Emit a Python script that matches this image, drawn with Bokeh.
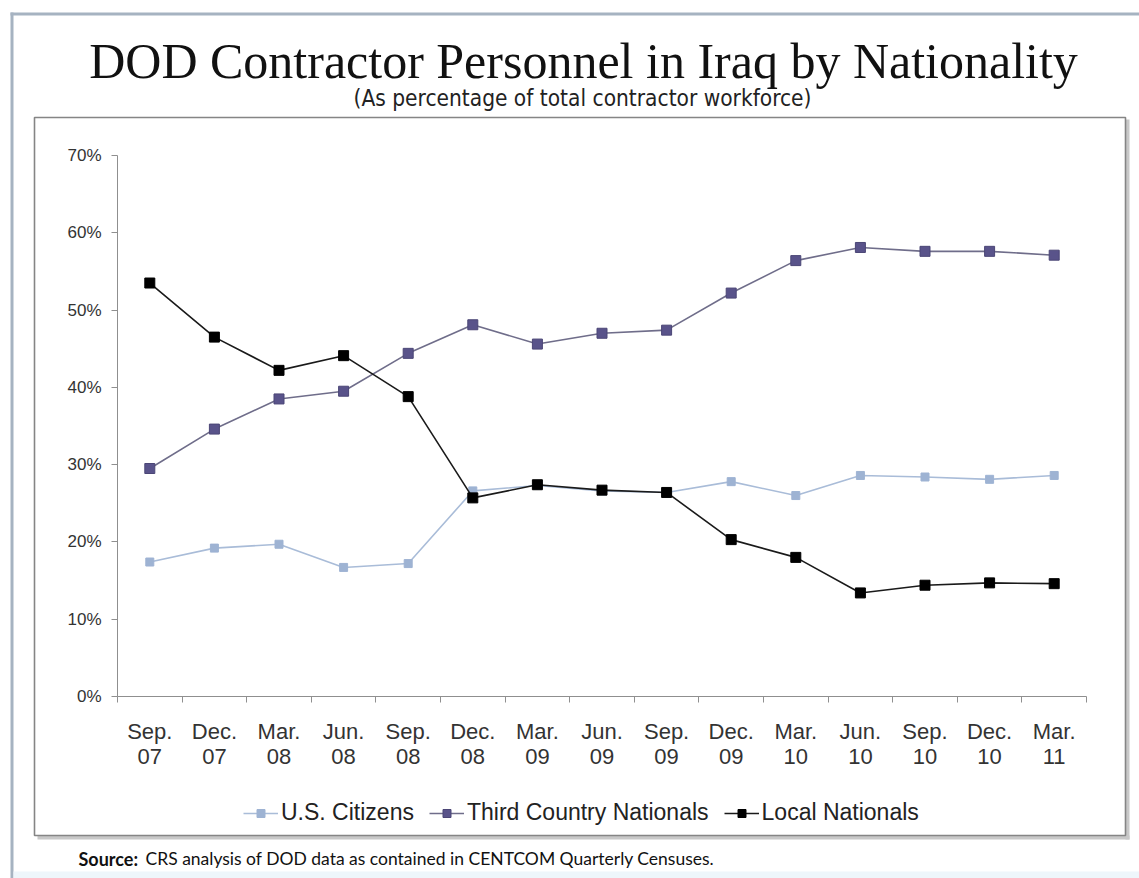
from bokeh.plotting import figure
from bokeh.models import (Range1d, FixedTicker, Label, Legend, LegendItem, LinearAxis,
                          NumeralTickFormatter)
from bokeh.embed import file_html
from bokeh.resources import INLINE

# ---------------- data ----------------
periods = ["Sep.\n07", "Dec.\n07", "Mar.\n08", "Jun.\n08", "Sep.\n08", "Dec.\n08",
           "Mar.\n09", "Jun.\n09", "Sep.\n09", "Dec.\n09", "Mar.\n10", "Jun.\n10",
           "Sep.\n10", "Dec.\n10", "Mar.\n11"]
us_citizens = [17.4, 19.2, 19.7, 16.7, 17.2, 26.6, 27.3, 26.6, 26.4, 27.8, 26.0, 28.6, 28.4, 28.1, 28.6]
third_country = [29.5, 34.6, 38.5, 39.5, 44.4, 48.1, 45.6, 47.0, 47.4, 52.2, 56.4, 58.1, 57.6, 57.6, 57.1]
local_nationals = [53.5, 46.5, 42.2, 44.1, 38.8, 25.7, 27.4, 26.7, 26.4, 20.3, 18.0, 13.4, 14.4, 14.7, 14.6]
y_ticks = [0, 10, 20, 30, 40, 50, 60, 70]

title_text = "DOD Contractor Personnel in Iraq by Nationality"
subtitle_text = "(As percentage of total contractor workforce)"
source_bold = "Source:"
source_text = "CRS analysis of DOD data as contained in CENTCOM Quarterly Censuses."

# ---------------- layout (pixels) ----------------
W, H = 1139, 878
PLOT_L, PLOT_R, PLOT_T, PLOT_B = 117, 1086, 155, 696   # plot area in page pixels

n = len(periods)
x = list(range(n))
x_lo, x_hi = -0.5, n - 0.5
y_lo, y_hi = 0, 70
xs = (PLOT_R - PLOT_L) / (x_hi - x_lo)
ys = (PLOT_B - PLOT_T) / (y_hi - y_lo)

p = figure(width=W, height=H, output_backend="svg", toolbar_location=None,
           x_range=Range1d(x_lo - PLOT_L / xs, x_hi + (W - PLOT_R) / xs),
           y_range=Range1d(y_lo - (H - PLOT_B) / ys, y_hi + PLOT_T / ys),
           x_axis_location=None, y_axis_location=None, min_border=0)
p.extra_x_ranges = {"px": Range1d(0, W)}
p.extra_y_ranges = {"px": Range1d(H, 0)}
p.background_fill_color = "white"
p.border_fill_color = "white"
p.outline_line_color = None
p.grid.grid_line_color = None

# ---------------- decorations ----------------
BORDER = "#a6b3c1"
p.quad(left=[10], right=[W], top=[12], bottom=[15], fill_color=BORDER, line_alpha=0,
       x_range_name="px", y_range_name="px")
p.quad(left=[10], right=[13], top=[12], bottom=[H], fill_color=BORDER, line_alpha=0,
       x_range_name="px", y_range_name="px")
p.quad(left=[13], right=[W], top=[871], bottom=[H], fill_color="#eef6fb", line_alpha=0,
       x_range_name="px", y_range_name="px")
# chart box with soft shadow on right / bottom
p.quad(left=[1125], right=[1129], top=[119], bottom=[839], fill_color="#c8c8c8", line_alpha=0,
       x_range_name="px", y_range_name="px")
p.quad(left=[37], right=[1129], top=[835], bottom=[839], fill_color="#c8c8c8", line_alpha=0,
       x_range_name="px", y_range_name="px")
p.quad(left=[34], right=[1125], top=[117], bottom=[835], fill_alpha=0, line_color="#858585",
       line_width=1.6, x_range_name="px", y_range_name="px")

# ---------------- axes ----------------
AX = "#8f8f8f"
xa = LinearAxis(fixed_location=y_lo, bounds=(x_lo, x_hi))
xa.ticker = FixedTicker(ticks=x, minor_ticks=[i - 0.5 for i in range(n + 1)])
xa.major_label_overrides = {i: lab for i, lab in zip(x, periods)}
xa.major_tick_out = 0
xa.major_tick_in = 0
xa.minor_tick_out = 6
xa.minor_tick_in = 0
xa.minor_tick_line_color = AX
xa.axis_line_color = AX
xa.major_label_standoff = 16
xa.major_label_text_font = "Liberation Sans"
xa.major_label_text_font_size = "22px"
xa.major_label_text_line_height = 1.0
xa.major_label_text_color = "#333333"
p.add_layout(xa, "below")

ya = LinearAxis(fixed_location=x_lo, bounds=(y_lo, y_hi))
ya.ticker = FixedTicker(ticks=y_ticks)
ya.formatter = NumeralTickFormatter(format="0")
ya.major_label_overrides = {t: f"{t}%" for t in y_ticks}
ya.major_tick_out = 6
ya.major_tick_in = 0
ya.minor_tick_out = 0
ya.minor_tick_in = 0
ya.major_tick_line_color = AX
ya.axis_line_color = AX
ya.major_label_standoff = 10
ya.major_label_text_font = "Liberation Sans"
ya.major_label_text_font_size = "17px"
ya.major_label_text_color = "#333333"
p.add_layout(ya, "left")

# ---------------- series ----------------
r_us_l = p.line(x, us_citizens, line_color="#a9bcd8", line_width=1.6)
r_us_m = p.scatter(x, us_citizens, marker="square", size=8, fill_color="#9eb3d3", line_color="#9eb3d3")
r_tc_l = p.line(x, third_country, line_color="#6f6d8a", line_width=1.6)
r_tc_m = p.scatter(x, third_country, marker="square", size=10, fill_color="#59538a", line_color="#4b4676")
r_ln_l = p.line(x, local_nationals, line_color="#1a1a1a", line_width=1.6)
r_ln_m = p.scatter(x, local_nationals, marker="square", size=10, fill_color="#000000", line_color="#000000")

legend = Legend(items=[
    LegendItem(label="U.S. Citizens", renderers=[r_us_l, r_us_m]),
    LegendItem(label="Third Country Nationals", renderers=[r_tc_l, r_tc_m]),
    LegendItem(label="Local Nationals", renderers=[r_ln_l, r_ln_m]),
], orientation="horizontal", location=(243, H - 826))
legend.glyph_width = 35
legend.glyph_height = 20
legend.label_standoff = 3
legend.spacing = 15
legend.padding = 0
legend.margin = 0
legend.border_line_alpha = 0
legend.background_fill_alpha = 0
legend.label_text_font = "Liberation Sans"
legend.label_text_font_size = "23px"
legend.label_text_color = "#222222"
p.add_layout(legend, "center")

# ---------------- texts ----------------
p.add_layout(Label(x=583, y=H - 60, x_units="screen", y_units="screen", text=title_text,
                   text_font="Liberation Serif", text_font_size="50px", text_color="#111111",
                   text_align="center", text_baseline="middle"))
p.add_layout(Label(x=582, y=H - 97, x_units="screen", y_units="screen", text=subtitle_text,
                   text_font="DejaVu Sans Condensed", text_font_size="22.5px", text_color="#222222",
                   text_align="center", text_baseline="middle"))
p.add_layout(Label(x=78, y=H - 858, x_units="screen", y_units="screen", text=source_bold,
                   text_font="Lato", text_font_style="bold", text_font_size="18px",
                   text_color="#111111", text_align="left", text_baseline="middle"))
p.add_layout(Label(x=145, y=H - 858, x_units="screen", y_units="screen", text=source_text,
                   text_font="Lato", text_font_size="17.5px",
                   text_color="#111111", text_align="left", text_baseline="middle"))

open("out.html", "w").write(file_html(p, INLINE))
